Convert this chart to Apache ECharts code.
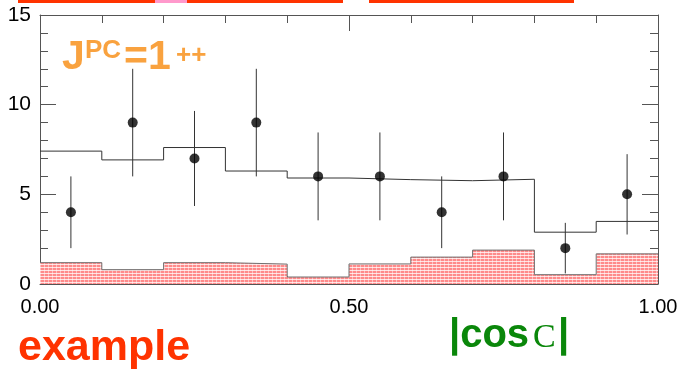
<!DOCTYPE html>
<html>
<head>
<meta charset="utf-8">
<script src="https://cdn.jsdelivr.net/npm/echarts@6/dist/echarts.min.js"></script>
<style>
html,body{margin:0;padding:0;background:#fff;}
#chart{width:682px;height:370px;}
</style>
</head>
<body>
<div id="chart"></div>
<script>
// ---- data ----
var binEdges = [0, 0.1, 0.2, 0.3, 0.4, 0.5, 0.6, 0.7, 0.8, 0.9, 1.0];
var binCenters = [0.05, 0.15, 0.25, 0.35, 0.45, 0.55, 0.65, 0.75, 0.85, 0.95];
var dataValues = [4, 9, 7, 9, 6, 6, 4, 6, 2, 5];
var errLow  = [2.0, 6.0, 4.35, 6.0, 3.55, 3.55, 2.0, 3.55, 0.59, 2.76];
var errHigh = [6.0, 12.0, 9.65, 12.0, 8.45, 8.45, 6.0, 8.45, 3.41, 7.24];
var fitValues = [7.41, 6.92, 7.61, 6.30, 5.91, 5.82, 5.76, 5.84, 2.89, 3.49];
var bkgValues = [1.19, 0.80, 1.19, 1.11, 0.39, 1.12, 1.50, 1.89, 0.52, 1.68];
var yTickLabels = [0, 5, 10, 15];
var xTickLabels = ['0.00', '0.50', '1.00'];

function stepData(vals) {
  return binEdges.map(function (e, i) {
    return [e, i < vals.length ? vals[i] : vals[vals.length - 1]];
  });
}

// hatch pattern
var pc = document.createElement('canvas');
pc.width = 4; pc.height = 3;
var g = pc.getContext('2d');
g.fillStyle = '#ff8a8a'; g.fillRect(0, 0, 4, 3);
g.fillStyle = 'rgba(255,255,255,0.75)'; g.fillRect(0, 0, 4, 1);
g.fillStyle = 'rgba(255,255,255,0.45)'; g.fillRect(0, 0, 1, 3);

var chart = echarts.init(document.getElementById('chart'), null, {renderer: 'canvas'});
var axisColor = '#555';
function xAx(pos, showLabel) {
  return {
    type: 'value', position: pos, min: 0, max: 1, interval: 0.5,
    axisLine: {show: true, onZero: false, lineStyle: {color: axisColor, width: 1}},
    axisTick: {show: true, inside: true, length: 16, lineStyle: {color: axisColor}},
    minorTick: {show: true, splitNumber: 5, length: 8, lineStyle: {color: axisColor}},
    splitLine: {show: false}, minorSplitLine: {show: false},
    axisLabel: {show: showLabel, color: '#000', fontSize: 20, fontFamily: 'Liberation Sans, Arial, sans-serif', margin: 13,
      formatter: function (v) { var i = Math.round(v * 2); return xTickLabels[i] || ''; }}
  };
}
function yAx(pos, showLabel) {
  return {
    type: 'value', position: pos, min: 0, max: 15, interval: 5,
    axisLine: {show: true, onZero: false, lineStyle: {color: axisColor, width: 1}},
    axisTick: {show: true, inside: true, length: 16, lineStyle: {color: axisColor}},
    minorTick: {show: true, splitNumber: 5, length: 8, lineStyle: {color: axisColor}},
    splitLine: {show: false}, minorSplitLine: {show: false},
    axisLabel: {show: showLabel, color: '#000', fontSize: 21, fontFamily: 'Liberation Sans, Arial, sans-serif', margin: 9,
      formatter: function (v) { var i = Math.round(v / 5); return String(yTickLabels[i]); }}
  };
}

var font = 'Liberation Sans, Arial, sans-serif';
chart.setOption({
  animation: false,
  grid: {left: 40, right: 24, top: 15, bottom: 86},
  xAxis: [xAx('bottom', true), xAx('top', false)],
  yAxis: [yAx('left', true), yAx('right', false)],
  series: [
    {
      type: 'line', step: 'end', data: stepData(bkgValues), symbol: 'none',
      lineStyle: {color: '#707070', width: 1},
      areaStyle: {color: {image: pc, repeat: 'repeat'}, opacity: 1},
      z: 1
    },
    {
      type: 'line', step: 'end', data: stepData(fitValues), symbol: 'none',
      lineStyle: {color: '#333', width: 1}, z: 2
    },
    {
      type: 'custom', z: 3,
      data: binCenters.map(function (c, i) { return [c, errLow[i], errHigh[i]]; }),
      renderItem: function (params, api) {
        var p1 = api.coord([api.value(0), api.value(1)]);
        var p2 = api.coord([api.value(0), api.value(2)]);
        return {type: 'line', shape: {x1: p1[0], y1: p1[1], x2: p2[0], y2: p2[1]},
          style: {stroke: '#333', lineWidth: 1}};
      }
    },
    {
      type: 'scatter', z: 4, symbol: 'circle', symbolSize: 10,
      itemStyle: {color: '#000'},
      data: binCenters.map(function (c, i) { return [c, dataValues[i]]; })
    }
  ],
  graphic: [
    {type: 'rect', shape: {x: 18, y: 0, width: 137, height: 3}, style: {fill: '#ff3300'}},
    {type: 'rect', shape: {x: 155, y: 0, width: 32, height: 3}, style: {fill: '#ff99cc'}},
    {type: 'rect', shape: {x: 187, y: 0, width: 156, height: 3}, style: {fill: '#ff3300'}},
    {type: 'rect', shape: {x: 369, y: 0, width: 205, height: 3}, style: {fill: '#ff3300'}},
    {type: 'text', x: 62, y: 37, style: {text: 'J', fill: '#f9a23f', font: 'bold 41px ' + font, verticalAlign: 'top'}},
    {type: 'text', x: 85, y: 38, style: {text: 'PC', fill: '#f9a23f', font: 'bold 26px ' + font, verticalAlign: 'top'}},
    {type: 'text', x: 124, y: 37, style: {text: '=1', fill: '#f9a23f', font: 'bold 41px ' + font, verticalAlign: 'top'}},
    {type: 'text', x: 176, y: 43, style: {text: '++', fill: '#f9a23f', font: 'bold 26px ' + font, verticalAlign: 'top'}},
    {type: 'text', x: 18, y: 327, style: {text: 'example', fill: '#ff3300', font: 'bold 43px ' + font, verticalAlign: 'top'}},
    {type: 'text', x: 449, y: 316, style: {text: '|cos', fill: '#0a870a', font: 'bold 40px ' + font, verticalAlign: 'top'}},
    {type: 'text', x: 533, y: 321, style: {text: 'C', fill: '#0a870a', font: '34px Liberation Serif, Times New Roman, serif', verticalAlign: 'top'}},
    {type: 'text', x: 558, y: 316, style: {text: '|', fill: '#0a870a', font: 'bold 40px ' + font, verticalAlign: 'top'}}
  ]
});
</script>
</body>
</html>
